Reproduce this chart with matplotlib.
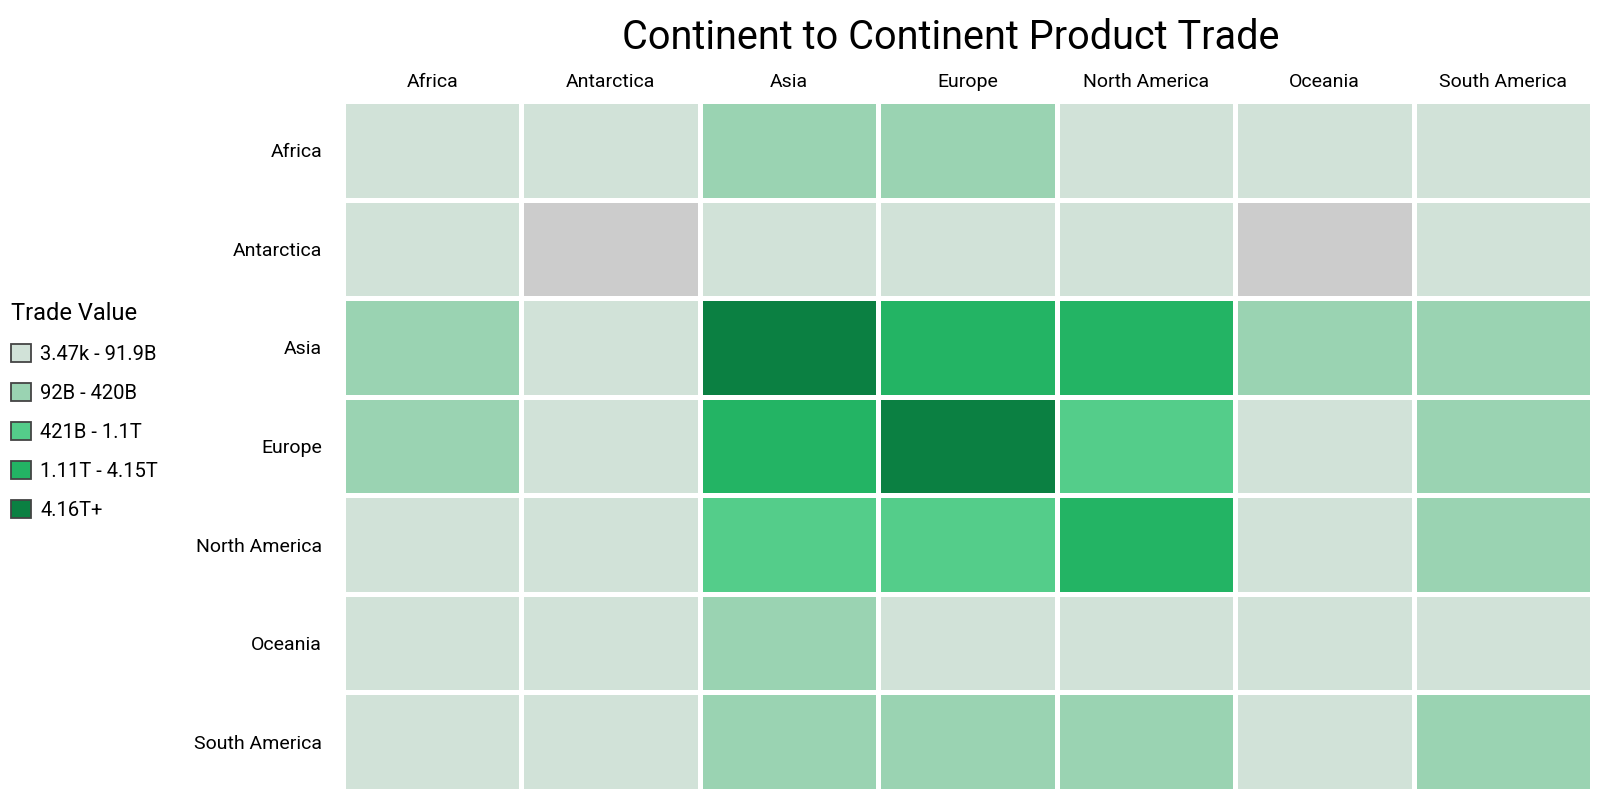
import numpy as np
import matplotlib.pyplot as plt
from matplotlib.colors import ListedColormap, BoundaryNorm
from matplotlib.patches import Patch

plt.rcParams["font.family"] = ["Roboto", "DejaVu Sans"]

continents = ["Africa", "Antarctica", "Asia", "Europe", "North America", "Oceania", "South America"]
# estimated trade values, billions USD (rows = origin, columns = destination)
africa = [70, 0.01, 150, 220, 40, 5, 15]
antarctica = [0.001, np.nan, 0.01, 0.05, 0.02, np.nan, 0.005]
asia = [250, 0.5, 6500, 2200, 2600, 380, 200]
europe = [280, 0.3, 1600, 8500, 950, 60, 110]
north_america = [50, 0.1, 1000, 800, 1800, 40, 200]
oceania = [10, 0.05, 300, 50, 30, 25, 3]
south_america = [25, 0.02, 250, 120, 180, 4, 120]

bin_edges = [0, 92, 421, 1110, 4160, 1e6]
bin_labels = ["3.47k - 91.9B", "92B - 420B", "421B - 1.1T", "1.11T - 4.15T", "4.16T+"]
bin_colors = ["#d1e2d8", "#9ad3b2", "#54cd8a", "#23b464", "#0b8042"]

values = np.array([africa, antarctica, asia, europe, north_america, oceania, south_america], dtype=float)
cmap = ListedColormap(bin_colors)
cmap.set_bad("#cccccc")
norm = BoundaryNorm(bin_edges, cmap.N)

fig = plt.figure(figsize=(16, 8), dpi=100)
ax = fig.add_axes([343 / 1600, 9 / 800, 1249 / 1600, 690 / 800])
ax.pcolormesh(np.ma.masked_invalid(values), cmap=cmap, norm=norm,
              edgecolors="white", linewidth=2.2)
ax.set_xlim(0, len(continents))
ax.set_ylim(len(continents), 0)
ax.set_xticks(np.arange(len(continents)) + 0.5)
ax.set_xticklabels(continents, fontsize=14)
ax.set_yticks(np.arange(len(continents)) + 0.5)
ax.set_yticklabels(continents, fontsize=14)
ax.xaxis.tick_top()
ax.tick_params(axis="x", length=0, pad=7)
ax.tick_params(axis="y", length=0, pad=15)
for s in ax.spines.values():
    s.set_visible(False)

fig.suptitle("Continent to Continent Product Trade", fontsize=28.5, x=0.594, y=0.978)

handles = [Patch(facecolor=c, edgecolor="#444444", linewidth=1.3) for c in bin_colors]
leg = fig.legend(handles, bin_labels, loc="upper left", bbox_to_anchor=(-0.002, 0.64),
                 title="Trade Value", title_fontsize=17, fontsize=14.5, frameon=False,
                 handlelength=1.0, handleheight=1.0, labelspacing=0.95, handletextpad=0.45,
                 borderaxespad=0.3)
leg._legend_box.align = "left"

fig.savefig("out.png", dpi=100)
